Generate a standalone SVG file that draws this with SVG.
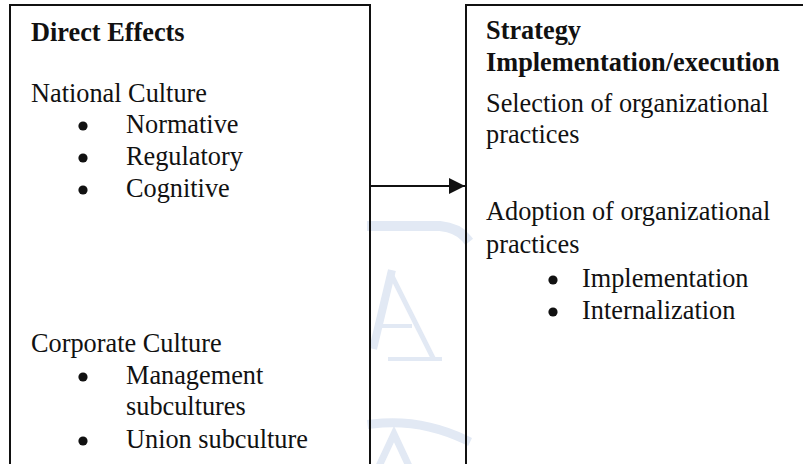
<svg xmlns="http://www.w3.org/2000/svg" width="803" height="464" viewBox="0 0 803 464">
  <defs>
    <style>
      text { font-family: "Liberation Serif", "Times New Roman", serif; font-size: 26.3px; fill: #111; }
      .head { font-weight: bold; }
      .box { fill: none; stroke: #111; stroke-width: 2; }
      .dot { fill: #111; }
      .mark { fill: none; stroke: #e2e9f4; stroke-linecap: square; }
    </style>
    <marker id="arrowhead" viewBox="0 0 16 16" refX="16" refY="8" markerWidth="16" markerHeight="16" markerUnits="userSpaceOnUse" orient="auto">
      <path d="M0,0 L16,8 L0,16 Z" fill="#111"/>
    </marker>
  </defs>

  <rect width="803" height="464" fill="#fff"/>

  <!-- faint background watermark strokes between the boxes -->
  <g id="watermark">
    <path class="mark" stroke-width="10" d="M372,226 L440,226 Q458,228 466,238"/>
    <path class="mark" stroke-width="8" d="M374,345 L391,274"/>
    <path class="mark" stroke-width="5" d="M391,274 L432,356"/>
    <path class="mark" stroke-width="4" d="M378,326 L410,326"/>
    <path class="mark" stroke-width="4" d="M390,359 L440,359"/>
    <path class="mark" stroke-width="9" d="M372,424 Q420,418 466,440"/>
    <path class="mark" stroke-width="7" d="M380,464 L394,434 L408,464"/>
  </g>

  <g id="direct-effects">
    <path class="box" d="M10,470 L10,5 L370,5 L370,470"/>
    <text class="head" x="31" y="41">Direct Effects</text>
    <text x="31" y="102">National Culture</text>
    <circle class="dot" cx="83" cy="126" r="4.6"/>
    <text x="126" y="133">Normative</text>
    <circle class="dot" cx="83" cy="158" r="4.6"/>
    <text x="126" y="165">Regulatory</text>
    <circle class="dot" cx="83" cy="190" r="4.6"/>
    <text x="126" y="197">Cognitive</text>
    <text x="31" y="352">Corporate Culture</text>
    <circle class="dot" cx="83" cy="377" r="4.6"/>
    <text x="126" y="384">Management</text>
    <text x="126" y="415">subcultures</text>
    <circle class="dot" cx="83" cy="441" r="4.6"/>
    <text x="126" y="448">Union subculture</text>
  </g>

  <g id="strategy-implementation">
    <path class="box" d="M466,470 L466,5 L810,5"/>
    <text class="head" x="486" y="39">Strategy</text>
    <text class="head" x="486" y="71">Implementation/execution</text>
    <text x="486" y="112">Selection of organizational</text>
    <text x="486" y="143">practices</text>
    <text x="486" y="220">Adoption of organizational</text>
    <text x="486" y="253">practices</text>
    <circle class="dot" cx="553" cy="280" r="4.6"/>
    <text x="582" y="287">Implementation</text>
    <circle class="dot" cx="553" cy="312" r="4.6"/>
    <text x="582" y="319">Internalization</text>
  </g>

  <g id="connectors">
    <line x1="371" y1="186" x2="465" y2="186" stroke="#111" stroke-width="2" marker-end="url(#arrowhead)"/>
  </g>
</svg>
